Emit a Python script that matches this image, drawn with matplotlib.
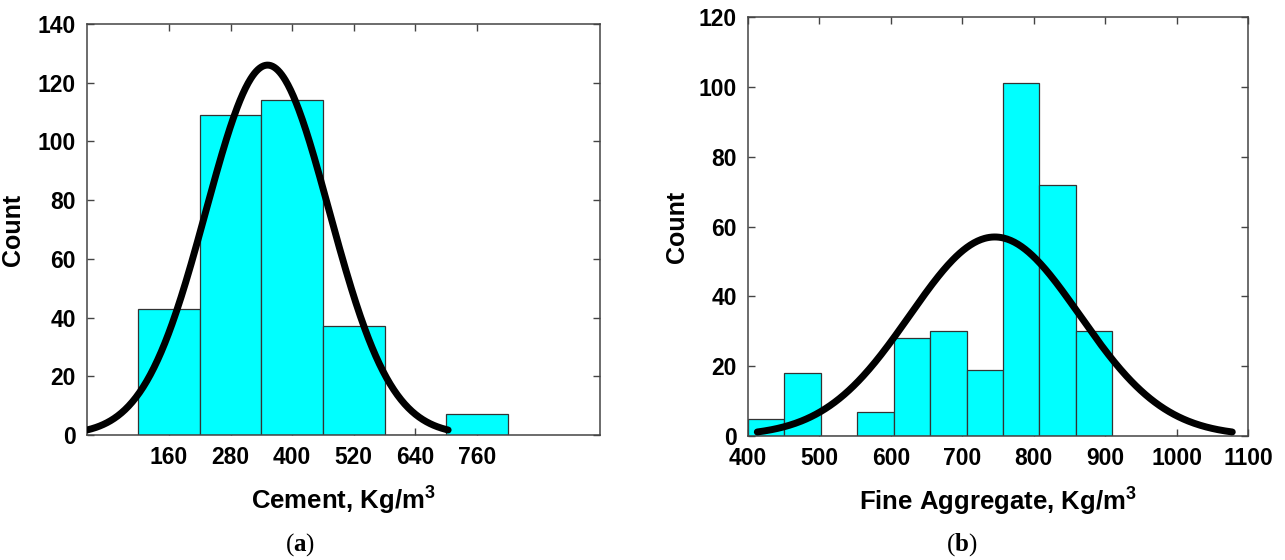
import numpy as np
import matplotlib
matplotlib.use('Agg')
from matplotlib import pyplot as plt

plt.rcParams['font.family'] = ['Liberation Sans', 'DejaVu Sans']
plt.rcParams['mathtext.fontset'] = 'custom'
plt.rcParams['mathtext.rm'] = 'Liberation Serif'
plt.rcParams['mathtext.bf'] = 'Liberation Serif:bold'
plt.rcParams['mathtext.sf'] = 'Liberation Sans:bold'

# (a) cement histogram
cement_edges = [100, 220, 340, 460, 580, 700, 820]
cement_counts = [43, 109, 114, 37, 0, 7]
cement_ticks = [160, 280, 400, 520, 640, 760]
# fitted normal curve: mean, std, peak, x-range
cement_fit = dict(mu=352, sigma=120, peak=126, lo=0, hi=704)

# (b) fine aggregate histogram
fine_edges = [400, 451, 502, 553, 604, 655, 706, 757, 808, 859, 910]
fine_counts = [5, 18, 0, 7, 28, 30, 19, 101, 72, 30]
fine_ticks = [400, 500, 600, 700, 800, 900, 1000, 1100]
fine_fit = dict(mu=745.5, sigma=119, peak=57, lo=413, hi=1078)

spine_col = '#444444'


def draw_panel(ax, edges, counts, fit, xticks, xlim, ylim, ystep, xlabel):
    ax.bar(edges[:-1], counts, width=np.diff(edges), align='edge',
           color='#00FFFF', edgecolor='#333333', linewidth=0.9, zorder=2)
    xs = np.linspace(fit['lo'], fit['hi'], 400)
    ys = fit['peak'] * np.exp(-(xs - fit['mu']) ** 2 / (2 * fit['sigma'] ** 2))
    ax.plot(xs, ys, color='black', linewidth=5, solid_capstyle='round', zorder=3)
    ax.set_xlim(*xlim)
    ax.set_ylim(*ylim)
    ax.set_xticks(xticks)
    ax.set_yticks(np.arange(ylim[0], ylim[1] + 1, ystep))
    ax.tick_params(direction='in', top=True, right=True, length=5, width=1,
                   color=spine_col, labelsize=16.5, pad=8)
    for lab in ax.get_xticklabels() + ax.get_yticklabels():
        lab.set_fontweight('bold')
    for s in ax.spines.values():
        s.set_color(spine_col)
        s.set_linewidth(1.1)
    ax.set_xlabel(xlabel, fontsize=18.5, fontweight='bold', labelpad=10)
    ax.set_ylabel('Count', fontsize=18, fontweight='bold')


fig = plt.figure(figsize=(12.85, 5.6), dpi=100)
ax1 = fig.add_axes([87 / 1285, 125 / 560, 513 / 1285, 411 / 560])
ax2 = fig.add_axes([748 / 1285, 124 / 560, 500 / 1285, 419 / 560])

draw_panel(ax1, cement_edges, cement_counts, cement_fit, cement_ticks,
           (0, 1000), (0, 140), 20, r'Cement, Kg/m$^{\mathsf{3}}$')
draw_panel(ax2, fine_edges, fine_counts, fine_fit, fine_ticks,
           (400, 1100), (0, 120), 20, r'Fine Aggregate, Kg/m$^{\mathsf{3}}$')
ax1.yaxis.set_label_coords(-0.121, 0.5)
ax2.yaxis.set_label_coords(-0.118, 0.5)

fig.text(300 / 1285, 1 - 545 / 560, r'($\mathbf{a}$)', family='Liberation Serif',
         fontsize=18, ha='center', va='center')
fig.text(962 / 1285, 1 - 545 / 560, r'($\mathbf{b}$)', family='Liberation Serif',
         fontsize=18, ha='center', va='center')

fig.savefig('out.png', dpi=100)
